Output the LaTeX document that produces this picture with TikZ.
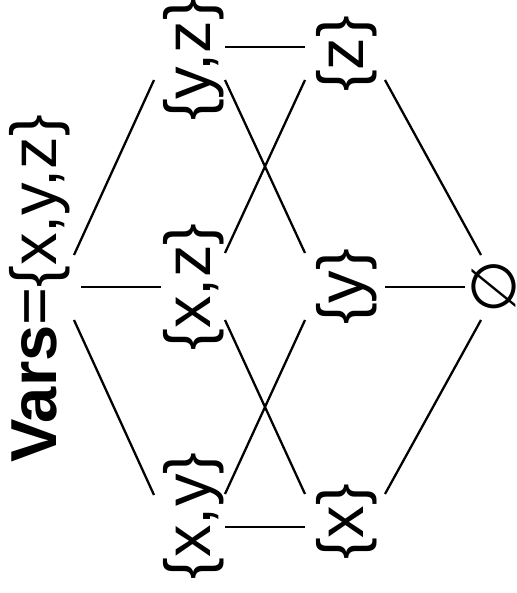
\documentclass[tikz,border=0pt]{standalone}
\usepackage{fontspec}
\setmainfont{Liberation Sans}
\newfontfamily\symfont{DejaVu Sans}
\usetikzlibrary{positioning}

\begin{document}
\begin{tikzpicture}[
  x=0.02cm, y=-0.02cm,
  setnode/.style={rotate=90,inner sep=0pt,font=\fontsize{37}{42}\selectfont},
  edge/.style={line width=1.3pt}
]
\useasboundingbox (0,0) rectangle (517,593);
% lattice of variable sets, drawn sideways
\node[setnode] (vars) at (40,289) {\textbf{Vars}=\{x,y,z\}};
\node[setnode] (yz) at (194,60) {\{y,z\}};
\node[setnode] (xz) at (194,287) {\{x,z\}};
\node[setnode] (xy) at (194,516) {\{x,y\}};
\node[setnode] (z) at (347,54) {\{z\}};
\node[setnode] (y) at (347,287) {\{y\}};
\node[setnode] (x) at (347,522) {\{x\}};
\node[setnode,font=\symfont\fontsize{35}{40}\selectfont] (empty) at (494,287) {∅};
% top level
\draw[edge] ([shift={(34,-34)}]vars.center) -- ([shift={(-40,20)}]yz.center);
\draw[edge] ([shift={(41,-2)}]vars.center) -- ([shift={(-33,0)}]xz.center);
\draw[edge] ([shift={(34,31)}]vars.center) -- ([shift={(-40,-21)}]xy.center);
% pairs to singletons
\draw[edge] ([shift={(31,-13)}]yz.center) -- ([shift={(-42,-7)}]z.center);
\draw[edge] ([shift={(31,20)}]yz.center) -- ([shift={(-42,-34)}]y.center);
\draw[edge] ([shift={(31,-34)}]xz.center) -- ([shift={(-42,26)}]z.center);
\draw[edge] ([shift={(31,33)}]xz.center) -- ([shift={(-42,-28)}]x.center);
\draw[edge] ([shift={(31,-22)}]xy.center) -- ([shift={(-42,33)}]y.center);
\draw[edge] ([shift={(31,11)}]xy.center) -- ([shift={(-42,5)}]x.center);
% singletons to empty set
\draw[edge] ([shift={(38,26)}]z.center) -- ([shift={(-13,-32)}]empty.center);
\draw[edge] ([shift={(38,0)}]y.center) -- ([shift={(-29,0)}]empty.center);
\draw[edge] ([shift={(38,-28)}]x.center) -- ([shift={(-13,33)}]empty.center);
\end{tikzpicture}
\end{document}
